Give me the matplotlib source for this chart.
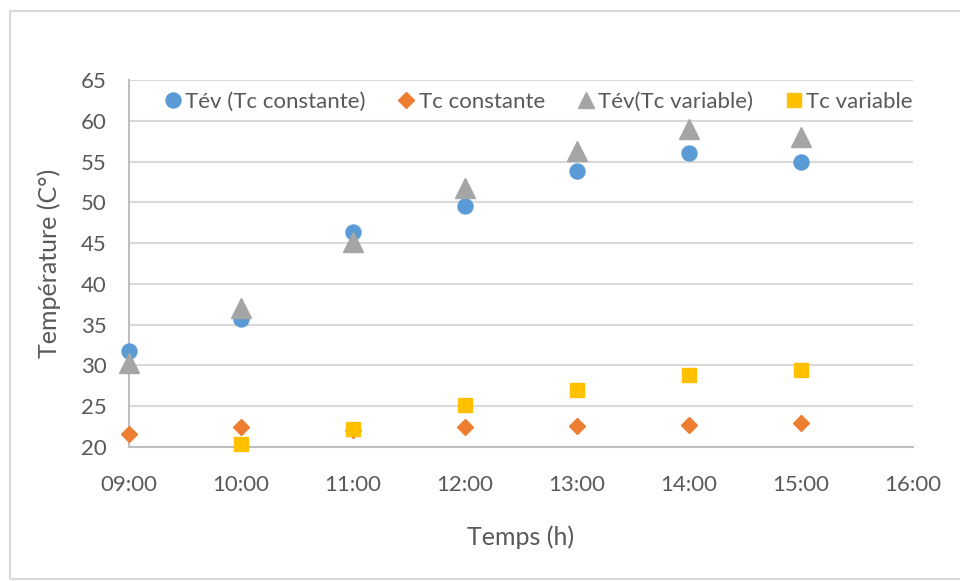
import numpy as np
import matplotlib.pyplot as plt
from matplotlib.patches import Rectangle

plt.rcParams['font.family'] = ['Lato', 'DejaVu Sans']

### Data
heures = [9, 10, 11, 12, 13, 14, 15]
tev_tc_const = [31.8, 35.75, 46.4, 49.5, 53.8, 56.0, 55.0]
tc_const = [21.55, 22.4, 22.1, 22.45, 22.6, 22.7, 22.9]
tev_tc_var = [30.3, 37.1, 45.1, 51.8, 56.3, 59.0, 58.0]
heures_tc_var = [10, 11, 12, 13, 14, 15]
tc_var = [20.35, 22.2, 25.15, 26.95, 28.8, 29.4]

xticks = [9, 10, 11, 12, 13, 14, 15, 16]
xlabels = ['09:00', '10:00', '11:00', '12:00', '13:00', '14:00', '15:00', '16:00']
yticks = np.arange(20, 66, 5)

txt = '#595959'

### Figure
fig = plt.figure(figsize=(9.6, 5.81), dpi=100)
fig.patches.append(Rectangle((10/960, 2/581), 1.2, 568/581, transform=fig.transFigure,
                             fill=False, edgecolor='#d9d9d9', linewidth=1.5))
ax = fig.add_axes([129/960, 1 - 447/581, 784/960, 367/581])

kw = dict(linestyle='none', clip_on=False, zorder=3)
ax.plot(heures, tev_tc_const, 'o', color='#5B9BD5', markersize=10.8, label='Tév (Tc constante)', **kw)
ax.plot(heures, tc_const, 'D', color='#ED7D31', markersize=8, label='Tc constante', **kw)
ax.plot(heures, tev_tc_var, '^', color='#A5A5A5', markersize=14.5, label='Tév(Tc variable)', **kw)
ax.plot(heures_tc_var, tc_var, 's', color='#FFC000', markersize=10.3, label='Tc variable', **kw)

ax.set_xlim(9, 16)
ax.set_ylim(20, 65)
ax.set_xticks(xticks)
ax.set_xticklabels(xlabels)
ax.set_yticks(yticks)
ax.tick_params(length=0, labelsize=16, colors=txt)
ax.tick_params(axis='x', pad=20)
ax.tick_params(axis='y', pad=16)
ax.grid(axis='y', color='#d9d9d9', linewidth=1.5)
ax.set_axisbelow(True)
for s in ['top', 'right']:
    ax.spines[s].set_visible(False)
for s in ['left', 'bottom']:
    ax.spines[s].set_color('#bfbfbf')
    ax.spines[s].set_linewidth(1.5)

ax.set_xlabel('Temps (h)', fontsize=18, color=txt, labelpad=22)
ax.set_ylabel('Température (C°)', fontsize=18, color=txt, labelpad=14)

leg = ax.legend(ncol=4, loc='center right', bbox_to_anchor=(1.0, 0.94), frameon=False,
                fontsize=16, handletextpad=0.05, columnspacing=1.35, handlelength=1.0,
                borderaxespad=0, borderpad=0)
for t in leg.get_texts():
    t.set_color(txt)
leg.legend_handles[2].set_markersize(11)

fig.savefig('out.png', dpi=100)
